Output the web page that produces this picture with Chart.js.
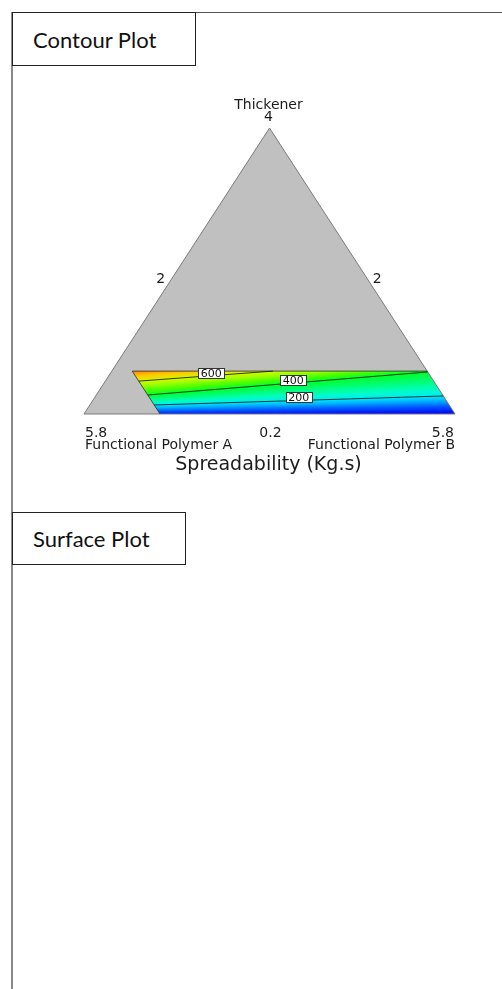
<!DOCTYPE html>
<html>
<head>
<meta charset="utf-8">
<script src="https://cdn.jsdelivr.net/npm/chart.js@4.4.0/dist/chart.umd.min.js"></script>
<style>
  html, body { margin: 0; padding: 0; background: #fff; width: 502px; height: 989px; overflow: hidden; }
  .frame-top { position: absolute; left: 12px; top: 12px; width: 490px; height: 0; border-top: 1px solid #555; }
  .frame-left { position: absolute; left: 11px; top: 12px; width: 2px; height: 977px; background: #8a8a8a; }
  .tag { position: absolute; left: 12px; box-sizing: border-box; border: 1px solid #222; background: #fff;
         font-family: Lato, "Open Sans", sans-serif; font-size: 22px; color: #111;
         display: flex; align-items: center; padding-left: 20px; }
  #tag1 { top: 12px; width: 184px; height: 54px; }
  #tag2 { top: 512px; width: 174px; height: 53px; }
  #c { position: absolute; left: 0; top: 0; }
</style>
</head>
<body>
<div class="frame-top"></div>
<div class="frame-left"></div>
<canvas id="c" width="502" height="500"></canvas>
<div class="tag" id="tag1">Contour Plot</div>
<div class="tag" id="tag2">Surface Plot</div>
<script>
// Mixture components, in pseudo-component fractions (A + B + T = 1)
const componentNames = ['Functional Polymer A', 'Functional Polymer B', 'Thickener'];
const vertexTicks = ['5.8', '5.8', '4'];          // A corner, B corner, Thickener apex
const edgeMidTicks = ['0.2', '2', '2'];           // A–B edge, A–T edge, B–T edge
const responseTitle = 'Spreadability (Kg.s)';

// Feasible region limits
const maxPolymerA = 0.795;
const maxThickener = 0.150;

// Contour levels with their end points, each as [A, B, T]
const contourLevels = [200, 400, 600];
const contourStart = [[0.795, 0.1735, 0.0315], [0.795, 0.1386, 0.0664], [0.795, 0.090, 0.115]];
const contourEnd   = [[0.000, 0.9370, 0.0630], [0.000, 0.8530, 0.1470], [0.416, 0.434, 0.150]];

// Response along the lower (T = 0) and upper (T = max) boundaries, keyed by the B fraction
const bottomEdgeB = [0.205, 1.0];
const bottomEdgeValue = [55, 25];
const topEdgeB = [0.055, 0.434, 0.853];
const topEdgeValue = [720, 600, 405];

// Colour ramp for the response (blue = low, orange = high)
const ramp = [
  [0,   [0, 0, 175]],
  [40,  [0, 10, 255]],
  [100, [0, 90, 255]],
  [160, [0, 185, 255]],
  [200, [0, 235, 245]],
  [260, [0, 255, 190]],
  [330, [0, 255, 110]],
  [400, [0, 255, 40]],
  [470, [80, 255, 0]],
  [540, [160, 255, 0]],
  [600, [215, 245, 0]],
  [660, [255, 200, 0]],
  [720, [255, 130, 0]]
];

function colourOf(v) {
  if (v <= ramp[0][0]) return 'rgb(' + ramp[0][1].join(',') + ')';
  for (let i = 1; i < ramp.length; i++) {
    if (v <= ramp[i][0]) {
      const f = (v - ramp[i - 1][0]) / (ramp[i][0] - ramp[i - 1][0]);
      const c = ramp[i - 1][1].map((c0, k) => Math.round(c0 + (ramp[i][1][k] - c0) * f));
      return 'rgb(' + c.join(',') + ')';
    }
  }
  return 'rgb(' + ramp[ramp.length - 1][1].join(',') + ')';
}

function lookup(xs, ys, x) {
  if (x <= xs[0]) return ys[0];
  for (let i = 1; i < xs.length; i++) {
    if (x <= xs[i]) return ys[i - 1] + (ys[i] - ys[i - 1]) * (x - xs[i - 1]) / (xs[i] - xs[i - 1]);
  }
  return ys[ys.length - 1];
}

// Ternary composition -> plot coordinates
const toXY = ([a, b, t]) => ({ x: b + t / 2, y: t });

const regionCorners = [
  [maxPolymerA, 1 - maxPolymerA, 0],
  [0, 1, 0],
  [0, 1 - maxThickener, maxThickener],
  [maxPolymerA, 1 - maxPolymerA - maxThickener, maxThickener]
];

const datasets = [];
contourLevels.forEach((lv, i) => {
  datasets.push({
    label: String(lv),
    data: [toXY(contourStart[i]), toXY(contourEnd[i])],
    showLine: true, borderColor: 'rgba(10,30,20,0.85)', borderWidth: 1, pointRadius: 0
  });
});
datasets.push({
  label: 'region',
  data: [toXY(regionCorners[0]), toXY(regionCorners[3]), toXY(regionCorners[2])],
  showLine: true, borderColor: 'rgba(50,50,50,0.85)', borderWidth: 1, pointRadius: 0
});
datasets.push({
  label: 'simplex',
  data: [toXY([1, 0, 0]), toXY([0, 1, 0]), toXY([0, 0, 1]), toXY([1, 0, 0])],
  showLine: true, borderColor: '#7a7a7a', borderWidth: 1, pointRadius: 0
});

const fillPlugin = {
  id: 'ternaryFill',
  beforeDatasetsDraw(chart) {
    const { ctx, scales: { x: sx, y: sy } } = chart;
    const px = (c) => { const p = toXY(c); return [sx.getPixelForValue(p.x), sy.getPixelForValue(p.y)]; };

    // grey simplex
    ctx.save();
    const tri = [px([1, 0, 0]), px([0, 1, 0]), px([0, 0, 1])];
    ctx.beginPath();
    tri.forEach((p, i) => i ? ctx.lineTo(p[0], p[1]) : ctx.moveTo(p[0], p[1]));
    ctx.closePath();
    ctx.fillStyle = '#c0c0c0';
    ctx.fill();

    // shaded feasible region
    const corners = regionCorners.map(px);
    ctx.beginPath();
    corners.forEach((p, i) => i ? ctx.lineTo(p[0], p[1]) : ctx.moveTo(p[0], p[1]));
    ctx.closePath();
    ctx.clip();

    const lines = contourLevels.map((lv, i) => ({ lv, s: toXY(contourStart[i]), e: toXY(contourEnd[i]) }));
    const yBottom = sy.getPixelForValue(0);
    const yTop = sy.getPixelForValue(maxThickener);
    const left = Math.floor(Math.min(...corners.map(c => c[0])));
    const right = Math.ceil(Math.max(...corners.map(c => c[0])));
    for (let col = left; col <= right; col++) {
      const xv = sx.getValueForPixel(col + 0.5);
      const stops = [[0, lookup(bottomEdgeB, bottomEdgeValue, xv)]];
      lines.forEach(L => {
        const t = L.s.y + (xv - L.s.x) * (L.e.y - L.s.y) / (L.e.x - L.s.x);
        if (t > 0 && t < maxThickener) stops.push([t, L.lv]);
      });
      stops.push([maxThickener, lookup(topEdgeB, topEdgeValue, xv - maxThickener / 2)]);
      stops.sort((p, q) => p[0] - q[0]);
      const g = ctx.createLinearGradient(0, yBottom, 0, yTop);
      for (let k = 0; k < stops.length - 1; k++) {
        const [ta, va] = stops[k], [tb, vb] = stops[k + 1];
        for (let s = 0; s <= 8; s++) {
          const f = s / 8;
          g.addColorStop(Math.min(1, Math.max(0, (ta + (tb - ta) * f) / maxThickener)), colourOf(va + (vb - va) * f));
        }
      }
      ctx.fillStyle = g;
      ctx.fillRect(col, yTop - 1, 1, yBottom - yTop + 2);
    }
    ctx.restore();
  }
};

const labelPlugin = {
  id: 'ternaryLabels',
  afterDatasetsDraw(chart) {
    const { ctx, scales: { x: sx, y: sy } } = chart;
    const px = (c) => { const p = toXY(c); return [sx.getPixelForValue(p.x), sy.getPixelForValue(p.y)]; };
    ctx.save();

    // contour level tags
    const along = [0.5, 0.52, 0.54];
    ctx.font = '11px "DejaVu Sans"';
    ctx.textAlign = 'center';
    ctx.textBaseline = 'middle';
    contourLevels.forEach((lv, i) => {
      const s = px(contourStart[i]), e = px(contourEnd[i]);
      const cx = s[0] + (e[0] - s[0]) * along[i];
      const cy = s[1] + (e[1] - s[1]) * along[i] - 3;
      const txt = String(lv);
      const w = ctx.measureText(txt).width + 5;
      ctx.fillStyle = '#fff';
      ctx.fillRect(Math.round(cx - w / 2) + 0.5, Math.round(cy - 5) + 0.5, Math.round(w), 10);
      ctx.strokeStyle = '#333';
      ctx.lineWidth = 1;
      ctx.strokeRect(Math.round(cx - w / 2) + 0.5, Math.round(cy - 5) + 0.5, Math.round(w), 10);
      ctx.fillStyle = '#111';
      ctx.fillText(txt, cx, cy + 1);
    });

    // axis texts
    const pA = px([1, 0, 0]), pB = px([0, 1, 0]), pT = px([0, 0, 1]);
    ctx.fillStyle = '#1c1c1c';
    ctx.font = '14px "DejaVu Sans"';
    ctx.textAlign = 'center';
    ctx.fillText(componentNames[2], pT[0] - 1, pT[1] - 23);
    ctx.fillText(vertexTicks[2], pT[0] - 1, pT[1] - 11);
    const mAT = [(pA[0] + pT[0]) / 2, (pA[1] + pT[1]) / 2];
    const mBT = [(pB[0] + pT[0]) / 2, (pB[1] + pT[1]) / 2];
    ctx.fillText(edgeMidTicks[1], mAT[0] - 16, mAT[1] + 8);
    ctx.fillText(edgeMidTicks[2], mBT[0] + 15, mBT[1] + 8);
    ctx.fillText(edgeMidTicks[0], (pA[0] + pB[0]) / 2 + 1, pA[1] + 19);
    ctx.textAlign = 'left';
    ctx.fillText(vertexTicks[0], pA[0] + 1, pA[1] + 19);
    ctx.fillText(componentNames[0], pA[0] + 1, pA[1] + 31);
    ctx.textAlign = 'right';
    ctx.fillText(vertexTicks[1], pB[0] - 1, pB[1] + 19);
    ctx.fillText(componentNames[1], pB[0], pB[1] + 31);
    ctx.textAlign = 'center';
    ctx.font = '19px "DejaVu Sans"';
    ctx.fillText(responseTitle, (pA[0] + pB[0]) / 2 - 1, pA[1] + 51);
    ctx.restore();
  }
};

new Chart(document.getElementById('c'), {
  type: 'scatter',
  data: { datasets },
  options: {
    responsive: false,
    animation: false,
    devicePixelRatio: 1,
    layout: { padding: 0 },
    plugins: { legend: { display: false }, tooltip: { enabled: false } },
    elements: { line: { tension: 0 } },
    scales: {
      x: { type: 'linear', display: false, min: -84 / 371, max: (502 - 84) / 371 },
      y: { type: 'linear', display: false, min: 414 / 286 - 500 / 286, max: 414 / 286 }
    }
  },
  plugins: [fillPlugin, labelPlugin]
});
</script>
</body>
</html>
